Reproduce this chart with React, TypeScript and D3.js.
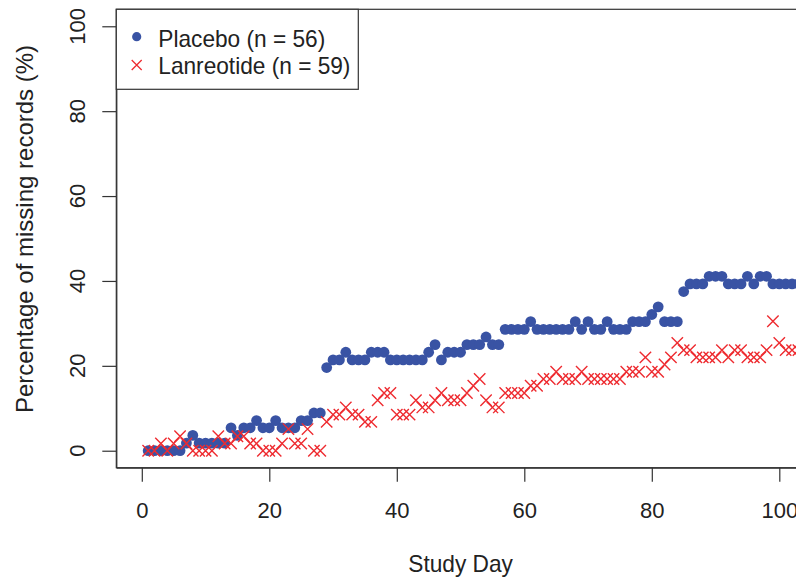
import React, { useRef, useEffect } from "react";
import * as d3 from "d3";

// Study days (x)
const studyDays: number[] = [
  1, 2, 3, 4, 5, 6, 7, 8, 9, 10, 11, 12, 13, 14, 15, 16, 17, 18, 19, 20,
  21, 22, 23, 24, 25, 26, 27, 28, 29, 30, 31, 32, 33, 34, 35, 36, 37, 38, 39, 40,
  41, 42, 43, 44, 45, 46, 47, 48, 49, 50, 51, 52, 53, 54, 55, 56, 57, 58, 59, 60,
  61, 62, 63, 64, 65, 66, 67, 68, 69, 70, 71, 72, 73, 74, 75, 76, 77, 78, 79, 80,
  81, 82, 83, 84, 85, 86, 87, 88, 89, 90, 91, 92, 93, 94, 95, 96, 97, 98, 99, 100,
  101, 102, 103,
];

// Placebo (n = 56): percentage of missing records per day
const placeboPct: number[] = [
  0, 0, 0, 0, 0, 0, 1.8, 3.6, 1.8, 1.8, 1.8, 1.8, 1.8, 5.4, 3.6, 5.4, 5.4, 7.1, 5.4, 5.4,
  7.1, 5.4, 5.4, 5.4, 7.1, 7.1, 8.9, 8.9, 19.6, 21.4, 21.4, 23.2, 21.4, 21.4, 21.4, 23.2, 23.2, 23.2, 21.4, 21.4,
  21.4, 21.4, 21.4, 21.4, 23.2, 25.0, 21.4, 23.2, 23.2, 23.2, 25.0, 25.0, 25.0, 26.8, 25.0, 25.0, 28.6, 28.6, 28.6, 28.6,
  30.4, 28.6, 28.6, 28.6, 28.6, 28.6, 28.6, 30.4, 28.6, 30.4, 28.6, 28.6, 30.4, 28.6, 28.6, 28.6, 30.4, 30.4, 30.4, 32.1,
  33.9, 30.4, 30.4, 30.4, 37.5, 39.3, 39.3, 39.3, 41.1, 41.1, 41.1, 39.3, 39.3, 39.3, 41.1, 39.3, 41.1, 41.1, 39.3, 39.3,
  39.3, 39.3, 39.3,
];

// Lanreotide (n = 59): percentage of missing records per day
const lanreotidePct: number[] = [
  0, 0, 1.7, 0, 1.7, 3.4, 1.7, 0, 0, 0, 0, 3.4, 1.7, 1.7, 3.4, 3.4, 1.7, 1.7, 0, 0,
  0, 1.7, 5.1, 1.7, 1.7, 5.1, 0, 0, 6.8, 8.5, 8.5, 10.2, 8.5, 8.5, 6.8, 6.8, 11.9, 13.6, 13.6, 8.5,
  8.5, 8.5, 11.9, 10.2, 10.2, 11.9, 13.6, 11.9, 11.9, 11.9, 13.6, 15.3, 16.9, 11.9, 10.2, 10.2, 13.6, 13.6, 13.6, 13.6,
  15.3, 15.3, 16.9, 16.9, 18.6, 16.9, 16.9, 16.9, 18.6, 16.9, 16.9, 16.9, 16.9, 16.9, 16.9, 18.6, 18.6, 18.6, 22.0, 18.6,
  18.6, 20.3, 22.0, 25.4, 23.7, 23.7, 22.0, 22.0, 22.0, 22.0, 23.7, 22.0, 23.7, 23.7, 22.0, 22.0, 22.0, 23.7, 30.5, 25.4,
  23.7, 23.7, 23.7,
];

const xTicks: number[] = [0, 20, 40, 60, 80, 100];
const yTicks: number[] = [0, 20, 40, 60, 80, 100];
const legendLabels: string[] = ["Placebo (n = 56)", "Lanreotide (n = 59)"];

const W = 796;
const H = 580;
const BLUE = "#3953A4";
const RED = "#EE2B30";
const INK = "#222222";
const LINE = "#333333";
const FONT = "'Liberation Sans', Arial, Helvetica, sans-serif";
const HSCALE = 0.945;

export default function App() {
  const ref = useRef<SVGSVGElement | null>(null);

  useEffect(() => {
    const svg = d3.select(ref.current);
    svg.selectAll("*").remove();

    const x = d3.scaleLinear().domain([-4, 104]).range([116.3, 804.8]);
    const y = d3.scaleLinear().domain([-4, 104]).range([467.7, 9.3]);

    const left = x(-4);
    const right = x(104);
    const top = y(104);
    const bottom = y(-4);

    svg
      .append("defs")
      .append("clipPath")
      .attr("id", "plotclip")
      .append("rect")
      .attr("x", left)
      .attr("y", top)
      .attr("width", right - left)
      .attr("height", bottom - top);

    // points
    const pts = svg.append("g").attr("clip-path", "url(#plotclip)");
    pts
      .selectAll("circle")
      .data(studyDays)
      .join("circle")
      .attr("cx", (d) => x(d))
      .attr("cy", (_d, i) => y(placeboPct[i]))
      .attr("r", 5.4)
      .attr("fill", BLUE);

    const cs = 5.7;
    pts
      .selectAll("path.cross")
      .data(studyDays)
      .join("path")
      .attr("class", "cross")
      .attr("d", (d, i) => {
        const cx = x(d);
        const cy = y(lanreotidePct[i]);
        return `M${cx - cs},${cy - cs}L${cx + cs},${cy + cs}M${cx - cs},${cy + cs}L${cx + cs},${cy - cs}`;
      })
      .attr("stroke", RED)
      .attr("stroke-width", 1.4)
      .attr("fill", "none");

    // box
    svg
      .append("rect")
      .attr("x", left)
      .attr("y", top)
      .attr("width", right - left)
      .attr("height", bottom - top)
      .attr("fill", "none")
      .attr("stroke", LINE)
      .attr("stroke-width", 1.2);

    // x axis
    const gx = svg
      .append("g")
      .attr("transform", `translate(0,${bottom})`)
      .call(d3.axisBottom(x).tickValues(xTicks).tickSize(14).tickSizeOuter(0).tickPadding(20.5));
    gx.select(".domain").attr("stroke", LINE).attr("stroke-width", 1.2);
    gx.selectAll(".tick line").attr("stroke", LINE).attr("stroke-width", 1.2);
    gx.selectAll(".tick text")
      .attr("fill", INK)
      .attr("font-family", FONT)
      .attr("font-size", 22);

    // y axis
    const gy = svg
      .append("g")
      .attr("transform", `translate(${left},0)`)
      .call(d3.axisLeft(y).tickValues(yTicks).tickSize(14).tickSizeOuter(0));
    gy.select(".domain").attr("stroke", LINE).attr("stroke-width", 1.2);
    gy.selectAll(".tick line").attr("stroke", LINE).attr("stroke-width", 1.2);
    gy.selectAll(".tick text").remove();
    svg
      .append("g")
      .selectAll("text")
      .data(yTicks)
      .join("text")
      .attr("transform", (v) => `translate(85,${y(v)}) rotate(-90)`)
      .attr("text-anchor", "middle")
      .attr("fill", INK)
      .attr("font-family", FONT)
      .attr("font-size", 22)
      .text((v) => String(v));

    // axis titles
    svg
      .append("text")
      .attr("transform", `translate(${(left + right) / 2},572) scale(${HSCALE},1)`)
      .attr("text-anchor", "middle")
      .attr("fill", INK)
      .attr("font-family", FONT)
      .attr("font-size", 24)
      .text("Study Day");

    svg
      .append("text")
      .attr("transform", `translate(33,229) rotate(-90)`)
      .attr("text-anchor", "middle")
      .attr("fill", INK)
      .attr("font-family", FONT)
      .attr("font-size", 24)
      .text("Percentage of missing records (%)");

    // legend
    const lg = svg.append("g");
    lg.append("rect")
      .attr("x", left)
      .attr("y", top)
      .attr("width", 358.3 - left)
      .attr("height", 89.3 - top)
      .attr("fill", "white")
      .attr("stroke", LINE)
      .attr("stroke-width", 1.2);
    lg.append("circle").attr("cx", 136.7).attr("cy", 36.7).attr("r", 4.6).attr("fill", BLUE);
    const lc = 5;
    lg.append("path")
      .attr("d", `M${136.7 - lc},${65 - lc}L${136.7 + lc},${65 + lc}M${136.7 - lc},${65 + lc}L${136.7 + lc},${65 - lc}`)
      .attr("stroke", RED)
      .attr("stroke-width", 1.3);
    lg.selectAll("text")
      .data(legendLabels)
      .join("text")
      .attr("transform", (_d, i) => `translate(158.3,${i === 0 ? 46.7 : 74}) scale(${HSCALE},1)`)
      .attr("fill", INK)
      .attr("font-family", FONT)
      .attr("font-size", 24)
      .text((d) => d);
  }, []);

  return (
    <svg
      ref={ref}
      width={W}
      height={H}
      style={{ position: "absolute", left: 0, top: 0, background: "white" }}
    />
  );
}
